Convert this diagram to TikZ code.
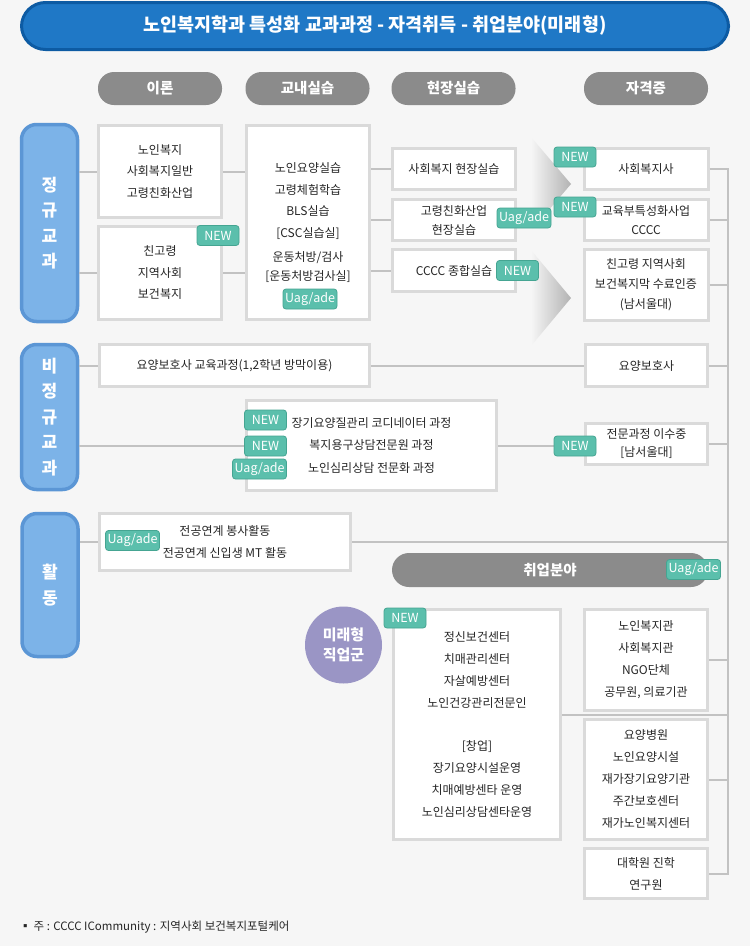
\documentclass[tikz,border=0pt]{standalone}
\usepackage{fontspec}
\setmainfont{Noto Sans CJK KR}
\definecolor{bgc}{HTML}{F6F6F6}
\definecolor{boxline}{HTML}{DADADA}
\definecolor{connc}{HTML}{C2C2C2}
\definecolor{txt}{HTML}{262626}
\definecolor{teal1}{HTML}{5BBFAC}
\definecolor{teald}{HTML}{45A592}
\definecolor{headc}{HTML}{8B8B8B}
\definecolor{titlec}{HTML}{1F78C6}
\definecolor{titled}{HTML}{0D5BA3}
\definecolor{sidec}{HTML}{7CB3E8}
\definecolor{sided}{HTML}{5B96D5}
\definecolor{purp}{HTML}{9A95C5}
\newcommand\bxfont{\fontsize{12}{21.5}\selectfont}
\tikzset{
  box/.style={draw=boxline,line width=3pt,fill=white,align=center,text=txt,font=\bxfont,inner sep=0pt},
  conn/.style={draw=connc,line width=2pt},
  badge/.style={draw=teald,fill=teal1,line width=0.8pt,rounded corners=3pt,text=white,
    font=\fontsize{12.5}{12.5}\selectfont,inner sep=0pt,minimum height=20pt,minimum width=42pt},
  uag/.style={badge,minimum width=54pt},
  head/.style={fill=headc,rounded corners=16pt,text=white,font=\fontsize{14.5}{14.5}\selectfont\bfseries,
    minimum width=124pt,minimum height=33pt,inner sep=0pt},
  side/.style={draw=sided,fill=sidec,line width=3.5pt,rounded corners=15pt,text=white,align=center,
    font=\fontsize{17}{25.5}\selectfont\bfseries,minimum width=56pt,inner sep=0pt}
}
\begin{document}
\begin{tikzpicture}[x=1pt,y=-1pt]
\useasboundingbox[fill=bgc] (0,0) rectangle (750,946);

% title and column heads
\node[draw=titled,fill=titlec,line width=3pt,rounded corners=24pt,minimum width=707pt,minimum height=47pt,
  text=white,font=\fontsize{18.5}{18.5}\selectfont\bfseries] (ttl) at (375,26) {노인복지학과 특성화 교과과정 - 자격취득 - 취업분야(미래형)};
\node[head] (h1) at (160,88.5) {이론};
\node[head] (h2) at (307.5,88.5) {교내실습};
\node[head] (h3) at (453.5,88.5) {현장실습};
\node[head] (h4) at (646,88.5) {자격증};

% arrows between practice and licence
\shade[left color=bgc,right color=black!30] (531,137) -- (571,184) -- (531,231) -- cycle;
\shade[left color=bgc,right color=black!30] (531,250) -- (571,298) -- (531,346) -- cycle;

% side labels
\node[side,minimum height=197pt] (jg) at (49.5,223) {정\\규\\교\\과};
\node[side,minimum height=145pt] (bj) at (49.5,417) {비\\정\\규\\교\\과};
\node[side,minimum height=143pt] (hd) at (50,585) {활\\동};

% regular courses
\node[box,minimum width=123pt,minimum height=92pt] (b1) at (160,171.5) {노인복지\\사회복지일반\\고령친화산업};
\node[box,minimum width=123pt,minimum height=93pt] (b2) at (160,273) {친고령\\지역사회\\보건복지};
\node[box,minimum width=123pt,minimum height=194pt] (ng) at (308,222.5)
  {노인요양실습\\고령체험학습\\BLS실습\\{[}CSC실습실{]}\\[3pt]운동처방/검사\\[-3pt]{[}운동처방검사실{]}};
\node[box,minimum width=123pt,minimum height=41pt] (f1) at (454,169) {사회복지 현장실습};
\node[box,minimum width=123pt,minimum height=41pt,font=\fontsize{12}{19}\selectfont] (f2) at (454,220) {고령친화산업\\현장실습};
\node[box,minimum width=123pt,minimum height=42pt] (f3) at (454,270.5) {CCCC 종합실습};
\node[box,minimum width=124pt,minimum height=41pt] (c1) at (646,169) {사회복지사};
\node[box,minimum width=124pt,minimum height=41pt,font=\fontsize{12}{18.5}\selectfont] (c2) at (646,220) {교육부특성화사업\\CCCC};
\node[box,minimum width=124pt,minimum height=71pt,font=\fontsize{12}{20}\selectfont] (c3) at (646,285) {친고령 지역사회\\보건복지막 수료인증\\(남서울대)};

% non-regular courses
\node[box,minimum width=270pt,minimum height=42pt] (nb1) at (234.5,365.5) {요양보호사 교육과정(1,2학년 방막이용)};
\node[box,minimum width=122pt,minimum height=42pt] (nc1) at (646.5,365.5) {요양보호사};
\node[box,minimum width=250pt,minimum height=90pt,font=\fontsize{12}{22.5}\selectfont] (ck) at (371.5,445.5)
  {장기요양질관리 코디네이터 과정\\복지용구상담전문원 과정\\노인심리상담 전문화 과정};
\node[box,minimum width=122pt,minimum height=41pt,font=\fontsize{12}{18}\selectfont] (nc2) at (646.5,444) {전문과정 이수중\\{[}남서울대{]}};

% activities
\node[box,minimum width=251pt,minimum height=57pt] (ab) at (225,542) {전공연계 봉사활동\\전공연계 신입생 MT 활동};

% jobs
\node[fill=headc,rounded corners=17pt,minimum width=316pt,minimum height=34pt,text=white,
  font=\fontsize{14.5}{14.5}\selectfont\bfseries] (jp) at (550,570) {취업분야};
\node[circle,fill=purp,minimum size=77pt,inner sep=0pt,text=white,align=center,
  font=\fontsize{15}{20}\selectfont\bfseries] (mf) at (343.5,645) {미래형\\직업군};
\node[box,minimum width=167pt,minimum height=230pt,font=\fontsize{12}{21.9}\selectfont] (mr) at (477,724.5)
  {정신보건센터\\치매관리센터\\자살예방센터\\노인건강관리전문인\\[21.9pt]{[}창업{]}\\장기요양시설운영\\치매예방센타 운영\\노인심리상담센타운영};
\node[box,minimum width=123pt,minimum height=101pt,font=\fontsize{12}{22}\selectfont] (ja) at (646,660) {노인복지관\\사회복지관\\NGO단체\\공무원, 의료기관};
\node[box,minimum width=123pt,minimum height=120pt,font=\fontsize{12}{22}\selectfont] (jb) at (646,779.5) {요양병원\\노인요양시설\\재가장기요양기관\\주간보호센터\\재가노인복지센터};
\node[box,minimum width=123pt,minimum height=50pt,font=\fontsize{12}{22}\selectfont] (jc) at (646,873.5) {대학원 진학\\연구원};

% connectors
\coordinate (bus) at (728,0);
\coordinate (gap) at (728,715);
\draw[conn] (jg.east |- b1.west) -- (b1.west);
\draw[conn] (jg.east |- b2.west) -- (b2.west);
\draw[conn] (b1.east) -- (b1.east -| ng.west);
\draw[conn] (b2.east) -- (b2.east -| ng.west);
\draw[conn] (ng.east |- f1.west) -- (f1.west);
\draw[conn] (ng.east |- f2.west) -- (f2.west);
\draw[conn] (ng.east |- f3.west) -- (f3.west);
\draw[conn] (c1.east) -- (c1.east -| bus) -- (jc.east -| bus) -- (jc.east);
\draw[conn] (c2.east) -- (c2.east -| bus);
\draw[conn] (c3.east) -- (c3.east -| bus);
\draw[conn] (bj.east |- nb1.west) -- (nb1.west);
\draw[conn] (nb1.east) -- (nc1.west);
\draw[conn] (nc1.east) -- (nc1.east -| bus);
\draw[conn] (bj.east |- ck.west) -- (ck.west);
\draw[conn] (ck.east) -- (ck.east -| nc2.west);
\draw[conn] (nc2.east) -- (nc2.east -| bus);
\draw[conn] (hd.east |- ab.west) -- (ab.west);
\draw[conn] (ab.east) -- (ab.east -| bus);
\draw[conn] (mr.east |- gap) -- (gap);
\draw[conn] (ja.east) -- (ja.east -| bus);
\draw[conn] (jb.east) -- (jb.east -| bus);

% badges
\node[badge] (nw1) at (218,235.5) {NEW};
\node[uag] (ua1) at (310,299) {Uag/ade};
\node[uag] (ua2) at (524,218) {Uag/ade};
\node[badge] (nw2) at (517.5,270.5) {NEW};
\node[badge] (nw3) at (575,157) {NEW};
\node[badge] (nw4) at (575,207) {NEW};
\node[badge] (nw5) at (265.5,420) {NEW};
\node[badge] (nw6) at (265.5,446) {NEW};
\node[uag] (ua3) at (259.5,469) {Uag/ade};
\node[badge] (nw7) at (575,446) {NEW};
\node[uag] (ua4) at (132.5,540.5) {Uag/ade};
\node[uag] (ua5) at (693.5,569.5) {Uag/ade};
\node[badge] (nw8) at (405,618) {NEW};

% note
\node[anchor=west,text=txt,font=\fontsize{11.5}{14}\selectfont] (note) at (16,927) {▪ 주 : CCCC ICommunity : 지역사회 보건복지포털케어};
\end{tikzpicture}
\end{document}
